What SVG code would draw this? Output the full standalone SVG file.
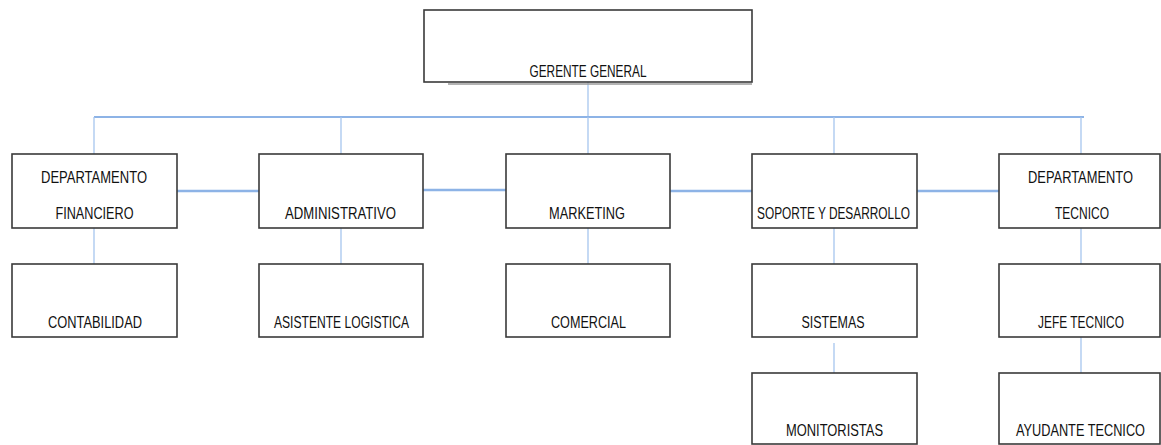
<svg xmlns="http://www.w3.org/2000/svg" width="1161" height="445" viewBox="0 0 1161 445">
<style>
.box{fill:#fff;stroke:#3a3a3a;stroke-width:1.6}
.sh{fill:none;stroke:#9a9a9a;stroke-width:1.5}
.t{font-family:"Liberation Sans",Arial,sans-serif;font-size:17px;fill:#111;text-anchor:middle}
.c{fill:none;stroke:#a7c6ee;stroke-width:1.3}
.m{fill:none;stroke:#8db3e6;stroke-width:1.8}
.h{fill:none;stroke:#8db3e6;stroke-width:2.6}
</style>
<rect width="1161" height="445" fill="#fff"/>
<g id="connectors">
<path class="c" d="M588 82V117"/>
<path class="m" d="M94 117H1084"/>
<path class="c" d="M94 117V154M341 117V154M588 117V154M834 117V154M1081 117V154"/>
<path class="h" d="M177 191H259M423 190H506M670 191H752M917 191H999"/>
<path class="c" d="M94 228V264M341 228V264M588 228V264M834 228V264M1081 228V264"/>
<path class="c" d="M834 343V375M1081 337V375"/>
</g>
<g id="gerente">
<rect class="box" x="424" y="10" width="328" height="72"/>
<path class="sh" d="M448 84H752"/>
<text class="t" x="588" y="77" textLength="117" lengthAdjust="spacingAndGlyphs">GERENTE GENERAL</text>
</g>
<g id="financiero">
<rect class="box" x="12" y="154" width="165" height="74"/>
<text class="t" x="94" y="183" textLength="106" lengthAdjust="spacingAndGlyphs">DEPARTAMENTO</text>
<text class="t" x="94.5" y="219" textLength="78" lengthAdjust="spacingAndGlyphs">FINANCIERO</text>
</g>
<g id="administrativo">
<rect class="box" x="259" y="154" width="164" height="74"/>
<text class="t" x="340.5" y="219" textLength="111" lengthAdjust="spacingAndGlyphs">ADMINISTRATIVO</text>
</g>
<g id="marketing">
<rect class="box" x="506" y="154" width="164" height="74"/>
<text class="t" x="587" y="219" textLength="76" lengthAdjust="spacingAndGlyphs">MARKETING</text>
</g>
<g id="soporte">
<rect class="box" x="752" y="154" width="165" height="74"/>
<text class="t" x="833.5" y="219" textLength="153" lengthAdjust="spacingAndGlyphs">SOPORTE Y DESARROLLO</text>
</g>
<g id="tecnico">
<rect class="box" x="999" y="154" width="161" height="74"/>
<text class="t" x="1080.5" y="183" textLength="105" lengthAdjust="spacingAndGlyphs">DEPARTAMENTO</text>
<text class="t" x="1082" y="219" textLength="54" lengthAdjust="spacingAndGlyphs">TECNICO</text>
</g>
<g id="contabilidad">
<rect class="box" x="12" y="264" width="165" height="73"/>
<text class="t" x="95" y="328" textLength="94" lengthAdjust="spacingAndGlyphs">CONTABILIDAD</text>
</g>
<g id="asistente">
<rect class="box" x="259" y="264" width="164" height="73"/>
<text class="t" x="341.5" y="328" textLength="135" lengthAdjust="spacingAndGlyphs">ASISTENTE LOGISTICA</text>
</g>
<g id="comercial">
<rect class="box" x="506" y="264" width="164" height="73"/>
<text class="t" x="588.5" y="328" textLength="75" lengthAdjust="spacingAndGlyphs">COMERCIAL</text>
</g>
<g id="sistemas">
<rect class="box" x="752" y="264" width="165" height="73"/>
<text class="t" x="833" y="328" textLength="63" lengthAdjust="spacingAndGlyphs">SISTEMAS</text>
</g>
<g id="jefe">
<rect class="box" x="999" y="264" width="161" height="73"/>
<text class="t" x="1081" y="328" textLength="86" lengthAdjust="spacingAndGlyphs">JEFE TECNICO</text>
</g>
<g id="monitoristas">
<rect class="box" x="752" y="373" width="165" height="71"/>
<text class="t" x="834.5" y="436" textLength="97" lengthAdjust="spacingAndGlyphs">MONITORISTAS</text>
</g>
<g id="ayudante">
<rect class="box" x="999" y="373" width="161" height="71"/>
<text class="t" x="1080.5" y="436" textLength="129" lengthAdjust="spacingAndGlyphs">AYUDANTE TECNICO</text>
</g>
</svg>
